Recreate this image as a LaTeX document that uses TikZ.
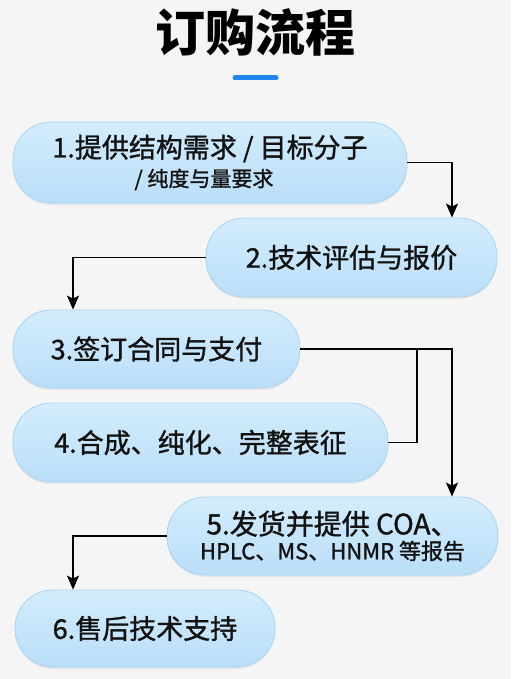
\documentclass[tikz,border=0pt]{standalone}
\usepackage{fontspec}
\setmainfont{Noto Sans CJK SC}
\newfontfamily\pillfont{Noto Sans CJK SC}[FakeBold=1.2]
\usetikzlibrary{arrows.meta,shadows}
\definecolor{pillfill}{HTML}{BADEF8}
\definecolor{pilltop}{HTML}{D3EDFD}
\definecolor{pilledge}{HTML}{A8D5F4}
\definecolor{barblue}{HTML}{1E88F0}
\definecolor{pagebg}{HTML}{F5F5F5}

\begin{document}
\begin{tikzpicture}[x=1pt, y=-1pt,
    pill/.style = {rounded corners=38pt, draw=pilledge, line width=0.8pt,
        top color=pilltop, bottom color=pillfill, text=black!93,
        drop shadow={opacity=0.12, shadow xshift=0pt, shadow yshift=-2pt},
        inner sep=0pt, align=center, font=\pillfont\fontsize{27}{30}\selectfont},
    link/.style = {line width=1.8pt, black},
    arr/.style = {link, -{Stealth[length=14pt, width=12pt, inset=3pt]}}]
    \fill [pagebg] (0,0) rectangle (511,679);
    \useasboundingbox (0,0) rectangle (511,679);

    \node (title) at (255,32) {\fontsize{50}{54}\selectfont\bfseries 订购流程};
    \draw [barblue, line width=5pt, line cap=round] (235,78) -- (276,78);

    \node [pill, minimum width=394pt, minimum height=81pt] (b1) at (210,162.5)
        {1.提供结构需求 / 目标分子\\[-1pt]{\fontsize{21}{22}\selectfont / 纯度与量要求\hspace*{12pt}}};
    \node [pill, minimum width=291pt, minimum height=79pt] (b2) at (351.5,257.5)
        {2.技术评估与报价};
    \node [pill, minimum width=287pt, minimum height=78pt] (b3) at (156.5,349)
        {3.签订合同与支付};
    \node [pill, minimum width=375pt, minimum height=79pt] (b4) at (200.5,442.5)
        {4.合成、纯化、完整表征};
    \node [pill, minimum width=331pt, minimum height=78pt] (b5) at (332.5,536)
        {{\fontsize{28}{30}\selectfont 5.发货并提供 COA、}\\[-5pt]{\fontsize{22}{24}\selectfont HPLC、MS、HNMR 等报告}};
    \node [pill, minimum width=260pt, minimum height=77pt] (b6) at (145,628.5)
        {6.售后技术支持};

    \coordinate (j34) at (417,349);

    \draw [arr] (b1.east) -| ([xshift=100.5pt]b2.north);
    \draw [arr] (b2.west) -| ([xshift=-83.5pt]b3.north);
    \draw [arr] (b3.east) -| ([xshift=119.5pt]b5.north);
    \draw [link] (b4.east) -| (j34);
    \draw [arr] (b5.west) -| ([xshift=-72pt]b6.north);
\end{tikzpicture}
\end{document}
